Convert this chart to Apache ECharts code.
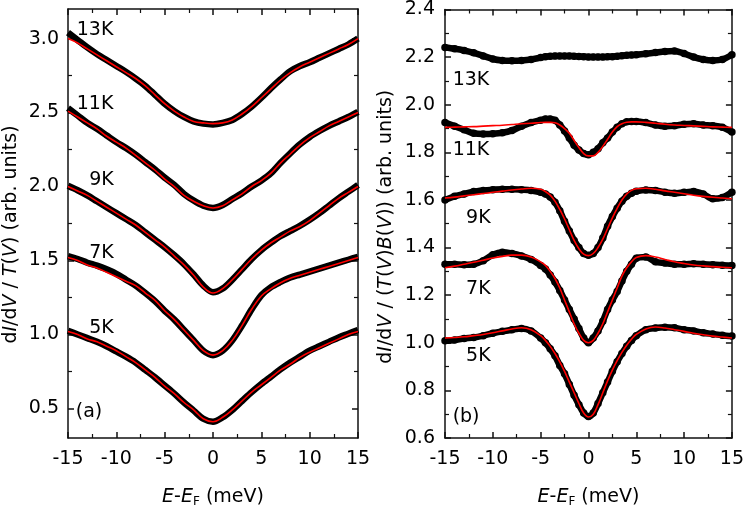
<!DOCTYPE html>
<html>
<head>
<meta charset="utf-8">
<script src="https://cdn.jsdelivr.net/npm/echarts@6/dist/echarts.min.js"></script>
<style>html,body{margin:0;padding:0;background:#fff}#c{width:747px;height:513px}</style>
</head>
<body>
<div id="c"></div>
<script>
// ---------- Panel (a) ----------
var EL = [-15,-14,-13,-12,-11,-10,-9,-8,-7,-6,-5,-4,-3,-2,-1,0,1,2,3,4,5,6,7,8,9,10,11,12,13,14,15];
var a13Data = [3.04,2.99,2.94,2.895,2.855,2.815,2.775,2.73,2.68,2.62,2.56,2.51,2.47,2.44,2.425,2.42,2.43,2.45,2.49,2.54,2.60,2.665,2.725,2.78,2.815,2.84,2.87,2.90,2.93,2.96,3.00];
var a13Fit  = [3.00,2.97,2.93,2.89,2.85,2.81,2.77,2.73,2.68,2.62,2.56,2.51,2.47,2.44,2.43,2.425,2.43,2.45,2.49,2.54,2.60,2.66,2.72,2.77,2.81,2.84,2.87,2.90,2.93,2.96,3.00];
var a11Data = [2.53,2.48,2.43,2.39,2.345,2.30,2.26,2.215,2.165,2.115,2.06,2.01,1.95,1.905,1.87,1.855,1.875,1.915,1.955,2.00,2.04,2.09,2.16,2.225,2.285,2.335,2.375,2.41,2.44,2.47,2.505];
var a11Fit  = [2.51,2.47,2.43,2.39,2.34,2.30,2.26,2.21,2.16,2.11,2.05,2.00,1.94,1.90,1.87,1.855,1.87,1.91,1.95,2.00,2.04,2.09,2.16,2.22,2.28,2.33,2.37,2.41,2.44,2.47,2.50];
var a9Data  = [2.005,1.975,1.94,1.90,1.86,1.82,1.78,1.74,1.69,1.64,1.59,1.535,1.475,1.405,1.33,1.285,1.31,1.37,1.44,1.51,1.57,1.62,1.665,1.70,1.735,1.775,1.82,1.87,1.92,1.965,2.01];
var a9Fit   = [2.00,1.97,1.94,1.90,1.86,1.82,1.78,1.74,1.69,1.64,1.59,1.53,1.47,1.40,1.32,1.28,1.31,1.37,1.44,1.51,1.57,1.62,1.66,1.70,1.73,1.77,1.82,1.87,1.92,1.96,2.00];
var a7Data  = [1.53,1.51,1.485,1.465,1.44,1.41,1.37,1.33,1.28,1.225,1.16,1.10,1.03,0.96,0.89,0.86,0.89,0.96,1.06,1.17,1.265,1.32,1.355,1.385,1.405,1.425,1.445,1.465,1.485,1.505,1.525];
var a7Fit   = [1.52,1.50,1.47,1.45,1.42,1.39,1.36,1.33,1.28,1.23,1.16,1.10,1.03,0.96,0.89,0.86,0.89,0.96,1.06,1.17,1.26,1.31,1.35,1.38,1.40,1.42,1.44,1.46,1.48,1.50,1.52];
var a5Data  = [1.025,1.00,0.975,0.95,0.92,0.885,0.85,0.81,0.76,0.71,0.655,0.60,0.54,0.485,0.43,0.41,0.44,0.49,0.55,0.61,0.665,0.715,0.765,0.81,0.85,0.89,0.92,0.95,0.98,1.005,1.03];
var a5Fit   = [1.02,1.00,0.97,0.95,0.92,0.89,0.85,0.81,0.76,0.71,0.65,0.60,0.54,0.49,0.43,0.41,0.44,0.49,0.55,0.61,0.66,0.71,0.76,0.80,0.845,0.88,0.91,0.94,0.97,1.00,1.02];

// ---------- Panel (b) ----------
var ER = [-15,-14,-13,-12,-11,-10,-9,-8,-7,-6,-5,-4.5,-4,-3.5,-3,-2.5,-2,-1.5,-1,-0.5,0,0.5,1,1.5,2,2.5,3,3.5,4,4.5,5,6,7,8,9,10,11,12,13,14,15];
var b13Data = [2.24,2.235,2.228,2.218,2.205,2.192,2.186,2.185,2.186,2.19,2.198,2.202,2.204,2.205,2.205,2.205,2.205,2.204,2.203,2.202,2.20,2.20,2.20,2.20,2.201,2.202,2.204,2.206,2.208,2.209,2.21,2.214,2.219,2.224,2.226,2.215,2.20,2.19,2.186,2.19,2.21];
var b11Data = [1.925,1.91,1.895,1.88,1.877,1.878,1.882,1.892,1.91,1.925,1.935,1.94,1.94,1.935,1.915,1.89,1.86,1.83,1.81,1.795,1.79,1.80,1.815,1.84,1.86,1.885,1.905,1.92,1.928,1.93,1.93,1.925,1.915,1.91,1.912,1.918,1.92,1.915,1.912,1.905,1.885];
var b11Fit  = [1.905,1.906,1.907,1.908,1.91,1.912,1.914,1.917,1.92,1.922,1.925,1.926,1.926,1.924,1.915,1.90,1.88,1.85,1.82,1.795,1.785,1.785,1.80,1.825,1.855,1.885,1.908,1.92,1.926,1.928,1.928,1.926,1.922,1.918,1.915,1.913,1.911,1.909,1.907,1.906,1.905];
var b9Data  = [1.60,1.615,1.625,1.635,1.64,1.643,1.645,1.645,1.643,1.64,1.632,1.625,1.612,1.59,1.555,1.51,1.47,1.43,1.40,1.375,1.368,1.375,1.40,1.44,1.49,1.53,1.565,1.595,1.615,1.628,1.636,1.642,1.64,1.632,1.628,1.632,1.635,1.625,1.605,1.61,1.632];
var b9Fit   = [1.608,1.612,1.617,1.622,1.627,1.632,1.637,1.642,1.646,1.649,1.645,1.635,1.62,1.595,1.56,1.52,1.475,1.43,1.395,1.372,1.366,1.375,1.40,1.435,1.48,1.525,1.565,1.60,1.625,1.64,1.647,1.649,1.645,1.638,1.632,1.626,1.62,1.615,1.611,1.608,1.605];
var b7Data  = [1.33,1.33,1.328,1.33,1.345,1.37,1.38,1.375,1.365,1.35,1.325,1.31,1.285,1.255,1.22,1.18,1.14,1.10,1.06,1.02,1.00,1.02,1.05,1.09,1.14,1.18,1.215,1.26,1.30,1.33,1.355,1.36,1.34,1.335,1.33,1.33,1.332,1.33,1.328,1.326,1.325];
var b7Fit   = [1.315,1.322,1.33,1.338,1.347,1.356,1.363,1.368,1.368,1.36,1.34,1.325,1.30,1.27,1.23,1.18,1.13,1.08,1.04,1.01,1.00,1.01,1.04,1.08,1.13,1.18,1.23,1.28,1.315,1.34,1.358,1.366,1.36,1.35,1.34,1.333,1.327,1.323,1.32,1.317,1.315];
var b5Data  = [1.008,1.012,1.018,1.022,1.03,1.04,1.048,1.055,1.06,1.05,1.02,1.00,0.975,0.945,0.905,0.87,0.825,0.78,0.74,0.705,0.69,0.705,0.745,0.79,0.835,0.88,0.92,0.955,0.985,1.01,1.03,1.055,1.062,1.065,1.063,1.055,1.05,1.042,1.037,1.032,1.028];
var b5Fit   = [1.02,1.022,1.025,1.03,1.035,1.042,1.05,1.058,1.063,1.055,1.03,1.01,0.985,0.955,0.92,0.88,0.835,0.79,0.745,0.705,0.688,0.70,0.74,0.79,0.84,0.885,0.925,0.96,0.99,1.015,1.035,1.058,1.066,1.062,1.055,1.048,1.04,1.034,1.028,1.024,1.02];

// tick labels
var yTicksA = [0.5,1.0,1.5,2.0,2.5,3.0];
var yMinorA = [0.75,1.25,1.75,2.25,2.75];

// text annotations (data coordinates)
var labelsA = [['13K',-14.1,3.056],['11K',-14.1,2.56],['9K',-12.8,2.044],['7K',-12.8,1.55],['5K',-12.8,1.04],['(a)',-14.2,0.478]];
var labelsB = [['13K',-14.2,2.105],['11K',-14.2,1.808],['9K',-12.8,1.525],['7K',-12.8,1.227],['5K',-12.8,0.944],['(b)',-14.2,0.688]];

function zip(xs, ys){ return xs.map(function(x,i){ return [x, ys[i]]; }); }

var FONT = '"DejaVu Sans", sans-serif';
var FS = 19;
var TXT = '#000';
var lineStyle = {color:'#111', width:1.5};
var minorStyle = {color:'#111', width:1.2};

function xAx(grid, pos, show){
  return {
    type:'value', gridIndex:grid, position:pos, min:-15, max:15, interval:5,
    axisLine:{show:true, onZero:false, lineStyle:lineStyle},
    axisTick:{show:true, inside:true, length:6, lineStyle:lineStyle},
    minorTick:{show:true, splitNumber:2, length:4, lineStyle:minorStyle},
    axisLabel:{show:show, margin:12, fontSize:FS, color:TXT, fontFamily:FONT},
    splitLine:{show:false},
    name: show ? '{i|E}-{i|E}{sub|F} (meV)' : '',
    nameLocation:'middle', nameGap:48,
    nameTextStyle:{fontSize:FS, color:TXT, fontFamily:FONT,
      rich:{i:{fontStyle:'italic', fontSize:FS, fontFamily:FONT, color:TXT},
            sub:{fontSize:12, fontFamily:FONT, color:TXT, verticalAlign:'bottom', padding:[10,0,0,0]}}}
  };
}

var richY = {i:{fontStyle:'italic', fontSize:FS, fontFamily:FONT, color:TXT}};

function overlayY(grid, pos, vals, len, style, lo, hi){
  return {type:'value', gridIndex:grid, position:pos, min:lo, max:hi,
    axisLine:{show:false, onZero:false}, axisLabel:{show:false}, splitLine:{show:false},
    axisTick:{show:true, inside:true, length:len, lineStyle:style, customValues:vals}};
}

var option = {
  animation:false,
  backgroundColor:'#fff',
  grid:[
    {left:68, top:9, width:290, height:434},
    {left:445, top:9, width:289, height:434}
  ],
  xAxis:[ xAx(0,'bottom',true), xAx(0,'top',false), xAx(1,'bottom',true), xAx(1,'top',false) ],
  yAxis:[
    {type:'value', gridIndex:0, position:'left', min:0.3, max:3.2,
     axisLine:{show:true, onZero:false, lineStyle:lineStyle},
     axisTick:{show:true, inside:true, length:6, lineStyle:lineStyle, customValues:yTicksA},
     axisLabel:{show:true, margin:9, fontSize:FS, color:TXT, fontFamily:FONT, customValues:yTicksA,
       formatter:function(v){return v.toFixed(1);}},
     splitLine:{show:false},
     name:'d{i|I}/d{i|V} / {i|T}({i|V}) (arb. units)', nameLocation:'middle', nameGap:47,
     nameTextStyle:{fontSize:FS, color:TXT, fontFamily:FONT, rich:richY, padding:[0,22,0,0]}},
    overlayY(0,'left',yMinorA,4,minorStyle,0.3,3.2),
    {type:'value', gridIndex:0, position:'right', min:0.3, max:3.2,
     axisLine:{show:true, onZero:false, lineStyle:lineStyle}, axisLabel:{show:false}, splitLine:{show:false},
     axisTick:{show:true, inside:true, length:6, lineStyle:lineStyle, customValues:yTicksA}},
    overlayY(0,'right',yMinorA,4,minorStyle,0.3,3.2),
    {type:'value', gridIndex:1, position:'left', min:0.6, max:2.4, interval:0.2,
     axisLine:{show:true, onZero:false, lineStyle:lineStyle},
     axisTick:{show:true, inside:true, length:6, lineStyle:lineStyle},
     minorTick:{show:true, splitNumber:2, length:4, lineStyle:minorStyle},
     axisLabel:{show:true, margin:10, fontSize:FS, color:TXT, fontFamily:FONT,
       formatter:function(v){return v.toFixed(1);}},
     splitLine:{show:false},
     name:'d{i|I}/d{i|V} / ({i|T}({i|V}){i|B}({i|V})) (arb. units)', nameLocation:'middle', nameGap:49,
     nameTextStyle:{fontSize:FS, color:TXT, fontFamily:FONT, rich:richY, padding:[0,6,0,0]}},
    {type:'value', gridIndex:1, position:'right', min:0.6, max:2.4, interval:0.2,
     axisLine:{show:true, onZero:false, lineStyle:lineStyle},
     axisTick:{show:true, inside:true, length:6, lineStyle:lineStyle},
     minorTick:{show:true, splitNumber:2, length:4, lineStyle:minorStyle},
     axisLabel:{show:false}, splitLine:{show:false}}
  ],
  series:[]
};

function dataSeries(xi, yi, xs, ys, dots){
  return {type:'line', xAxisIndex:xi, yAxisIndex:yi, data:zip(xs, ys), smooth:0.3,
    symbol:'circle', symbolSize:dots ? 7.5 : 0, showSymbol:dots,
    lineStyle:{color:'#000', width:6.5}, itemStyle:{color:'#000'}, z:2, silent:true};
}
function fitSeries(xi, yi, xs, ys){
  return {type:'line', xAxisIndex:xi, yAxisIndex:yi, data:zip(xs, ys), smooth:0.4,
    showSymbol:false, lineStyle:{color:'#ff0000', width:1.6}, z:5, silent:true};
}
function labelSeries(xi, yi, labels){
  return {type:'scatter', xAxisIndex:xi, yAxisIndex:yi, symbolSize:0, z:10, silent:true,
    itemStyle:{opacity:1},
    data:labels.map(function(l){return {name:l[0], value:[l[1], l[2]]};}),
    label:{show:true, position:'right', distance:0, formatter:'{b}', fontSize:FS, color:TXT, fontFamily:FONT, opacity:1}};
}

[a13Data,a11Data,a9Data,a7Data,a5Data].forEach(function(d){ option.series.push(dataSeries(0,0,EL,d,false)); });
[a13Fit,a11Fit,a9Fit,a7Fit,a5Fit].forEach(function(d){ option.series.push(fitSeries(0,0,EL,d)); });
[b13Data,b11Data,b9Data,b7Data,b5Data].forEach(function(d){ option.series.push(dataSeries(2,4,ER,d,true)); });
[b11Fit,b9Fit,b7Fit,b5Fit].forEach(function(d){ option.series.push(fitSeries(2,4,ER,d)); });
option.series.push(labelSeries(0,0,labelsA));
option.series.push(labelSeries(2,4,labelsB));

var chart = echarts.init(document.getElementById('c'), null, {renderer:'canvas'});
chart.setOption(option);
</script>
</body>
</html>
